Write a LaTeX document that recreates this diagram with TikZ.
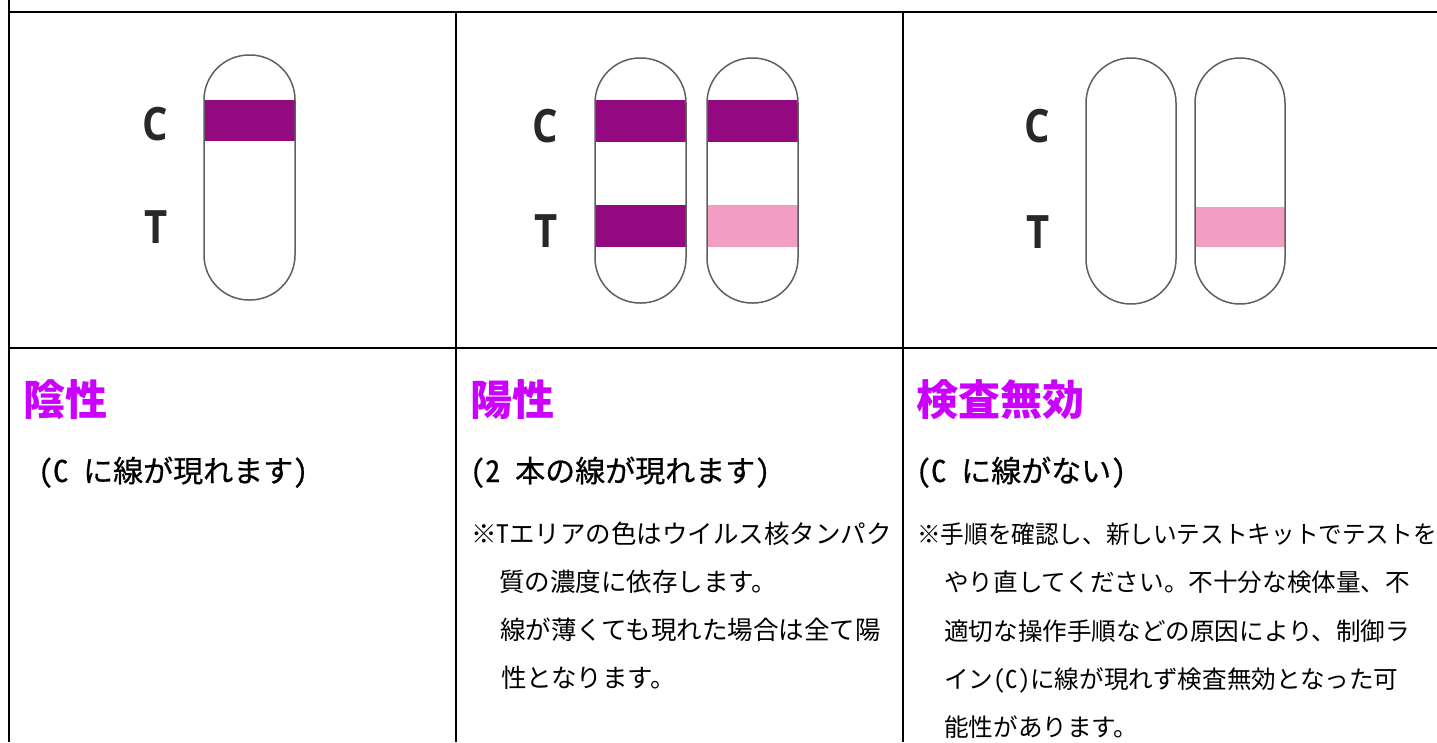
\documentclass[tikz,border=0pt]{standalone}
\usepackage{fontspec}
\newfontfamily\cjk{Noto Sans CJK JP}
\newfontfamily\cjkm{Noto Sans CJK JP}[FakeBold=0.6]
\newfontfamily\hw{Noto Sans CJK JP}[RawFeature=+hwid]
\newfontfamily\hwm{Noto Sans CJK JP}[RawFeature=+hwid,FakeBold=0.6]
\newfontfamily\ctfont{Open Sans}
\definecolor{band}{RGB}{147,10,128}
\definecolor{lightband}{RGB}{242,158,196}
\definecolor{head}{RGB}{204,0,255}
\definecolor{outline}{RGB}{95,95,95}
\definecolor{labelgray}{RGB}{40,40,40}
\begin{document}
\begin{tikzpicture}[x=1pt,y=-1pt,
  grid/.style={line width=2.6pt,black},
  strip/.style={draw=outline,line width=1.5pt,rounded corners=45pt},
  cband/.style={fill=band},
  tband/.style={fill=lightband},
  ctlabel/.style={font=\ctfont\bfseries\fontsize{46}{46}\selectfont,text=labelgray,inner sep=0pt,xscale=0.87,anchor=base},
  heading/.style={font=\cjk\bfseries\fontsize{42}{42}\selectfont,text=head,anchor=base west,inner sep=0pt},
  sub/.style={font=\cjkm\fontsize{30}{30}\selectfont,anchor=base west,inner sep=0pt},
  bodyb/.style={font=\cjk\fontsize{25.5}{25.5}\selectfont,anchor=base west,inner sep=0pt},
  bodyc/.style={font=\cjk\fontsize{24.6}{24.6}\selectfont,anchor=base west,inner sep=0pt}]
\useasboundingbox (0,0) rectangle (1437,742);
\fill[white] (0,0) rectangle (1437,742);
% grid
\draw[grid] (9,0) -- (9,742);
\draw[grid] (8,12) -- (1437,12);
\draw[grid] (8,348) -- (1437,348);
\draw[grid] (456,12) -- (456,742);
\draw[grid] (903,12) -- (903,742);
% panel 1
\fill[cband] (204,100) rectangle (295,141);
\draw[strip] (204,55) rectangle (295,300);
\node[ctlabel] (c1) at (155.5,140) {C};
\node[ctlabel] (t1) at (156.5,243) {T};
% panel 2
\fill[cband] (595,100) rectangle (686,142);
\fill[cband] (595,205) rectangle (686,247);
\draw[strip] (595,58) rectangle (686,303);
\fill[cband] (707,100) rectangle (798,142);
\fill[tband] (707,205) rectangle (798,247);
\draw[strip] (707,58) rectangle (798,303);
\node[ctlabel] (c2) at (545,142) {C};
\node[ctlabel] (t2) at (546,247) {T};
% panel 3
\draw[strip] (1086,58) rectangle (1176,304);
\fill[tband] (1195,207) rectangle (1285,247);
\draw[strip] (1195,58) rectangle (1285,304);
\node[ctlabel] (c3) at (1037.5,142) {C};
\node[ctlabel] (t3) at (1038.5,248) {T};
% texts col 1
\node[heading] (h1) at (23,415) {陰性};
\node[sub] (s1) at (23,482) {{\hwm\ (C }に線が現れます{\hwm )}};
% col 2
\node[heading] (h2) at (470,415) {陽性};
\node[sub] (s2) at (470,482) {{\hwm (2 }本の線が現れます{\hwm )}};
\node[bodyb] (b21) at (471,543) {※{\hw T}エリアの色はウイルス核タンパク};
\node[bodyb] (b22) at (499,591) {質の濃度に依存します。};
\node[bodyb] (b23) at (500,639) {線が薄くても現れた場合は全て陽};
\node[bodyb] (b24) at (501,687) {性となります。};
% col 3
\node[heading] (h3) at (916,415) {検査無効};
\node[sub] (s3) at (916,482) {{\hwm (C }に線がない{\hwm )}};
\node[bodyc,xscale=0.96] (b31) at (917,543) {※手順を確認し、新しいテストキットでテストを};
\node[bodyc] (b32) at (944,591) {やり直してください。不十分な検体量、不};
\node[bodyc] (b33) at (944,640) {適切な操作手順などの原因により、制御ラ};
\node[bodyc] (b34) at (944,688) {イン{\hw (C)}に線が現れず検査無効となった可};
\node[bodyc] (b35) at (944,736) {能性があります。};
\end{tikzpicture}
\end{document}
